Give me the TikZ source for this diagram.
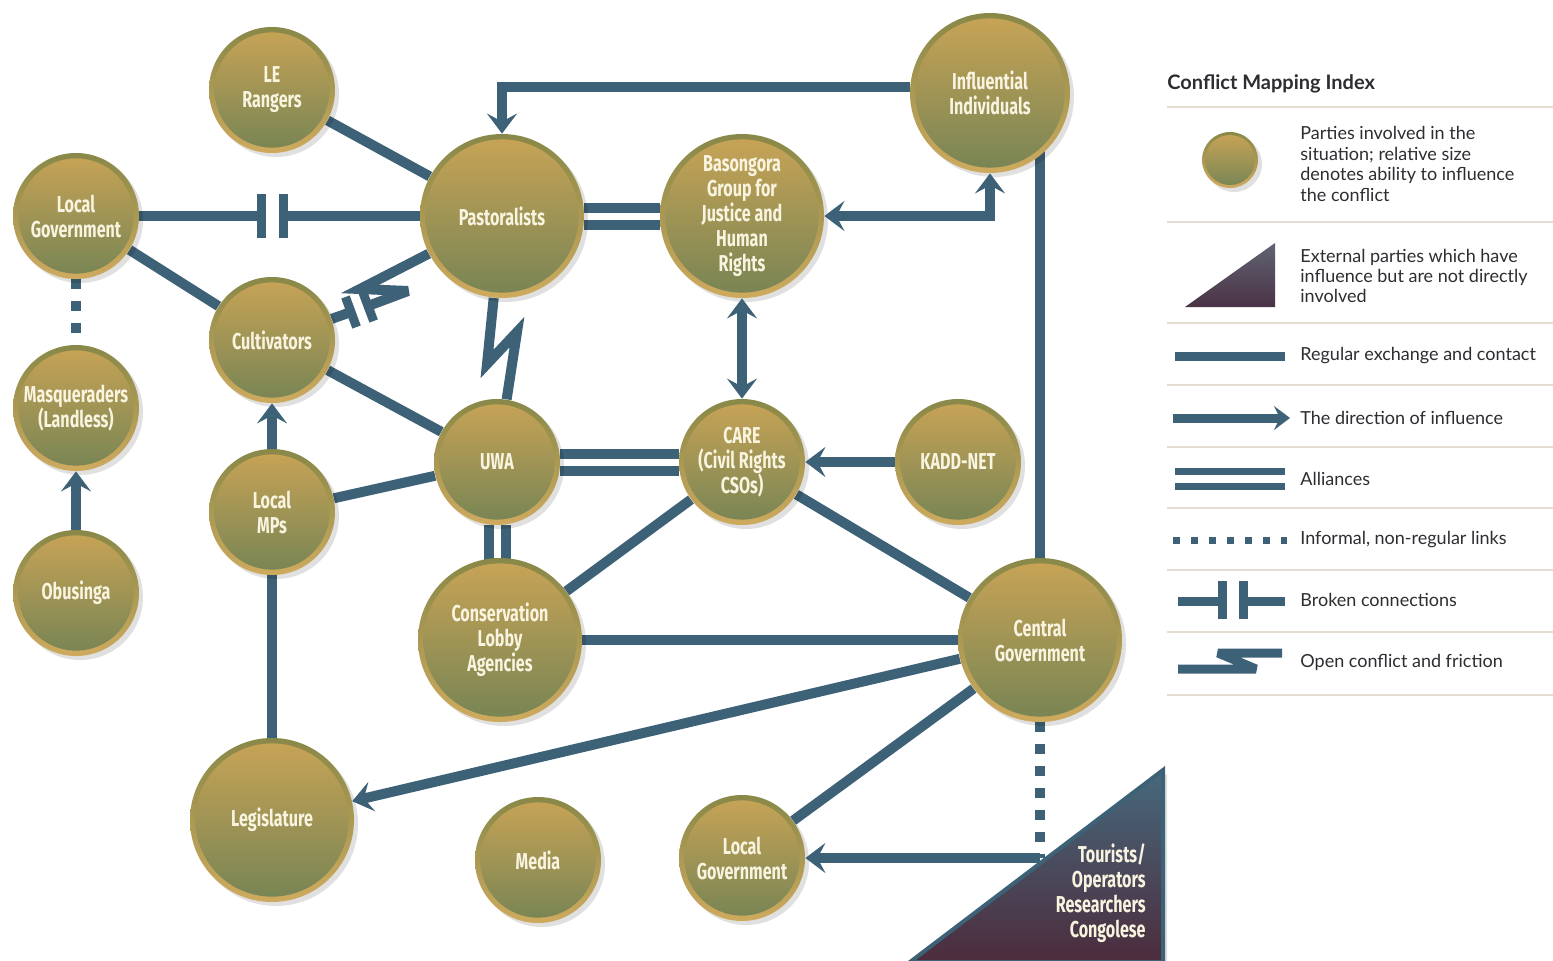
\documentclass[tikz,border=0pt]{standalone}
\usepackage{fontspec}
\setmainfont{Lato}
\newfontfamily\nodefont[FakeStretch=0.7]{Fira Sans}
\newfontfamily\legfont{Lato}
\usetikzlibrary{arrows.meta,shadows,backgrounds,calc}
\definecolor{lnk}{RGB}{61,97,118}
\definecolor{ringT}{RGB}{136,136,72}
\definecolor{ringB}{RGB}{206,170,94}
\definecolor{inT}{RGB}{201,164,86}
\definecolor{inB}{RGB}{118,132,84}
\definecolor{txt}{RGB}{248,244,224}
\definecolor{sep}{RGB}{228,222,210}
\definecolor{legtxt}{RGB}{45,45,50}
\tikzset{
  party/.style 2 args={circle, minimum size=#1, inner sep=0pt, draw=none,
    top color=ringT, bottom color=ringB,
    drop shadow={shadow xshift=2pt, shadow yshift=-2pt, opacity=0.12, fill=black},
    path picture={\shade[top color=inT, bottom color=inB] (path picture bounding box.center) circle[radius=#2];},
    font=\nodefont\bfseries\fontsize{11.5}{12.5}\selectfont, text=txt, align=center},
  big/.style={party={82pt}{38.3pt}},
  mid/.style={party={80pt}{37.3pt}},
  small/.style={party={63pt}{28.8pt}},
  tiny/.style={party={28pt}{12.5pt}},
  conn/.style={draw=lnk, line width=5pt},
  ally/.style={draw=lnk, line width=5pt, double=white, double distance=3.5pt},
  tip/.tip={Stealth[length=10pt,width=15pt,inset=4pt]},
  infl/.style={conn, -tip},
  mutual/.style={conn, tip-tip},
  dots/.style={conn, dash pattern=on 5pt off 6pt},
  fric/.style={conn, line join=miter, miter limit=5},
  bar/.style={draw=lnk, line width=4.5pt},
  legline/.style={draw=lnk, line width=4.5pt},
  legtext/.style={anchor=west, font=\legfont\fontsize{9}{10.2}\selectfont, text=legtxt, align=left, inner sep=0pt},
  septr/.style={draw=sep, line width=1pt},
}
\begin{document}
\begin{tikzpicture}[x=0.5pt,y=-0.5pt]
\useasboundingbox (0,0) rectangle (1553,960);

% parties
\node[small] (LE)   at (272,90)  {LE\\Rangers};
\node[small] (LG)   at (76,216)  {Local\\Government};
\node[big]   (P)    at (502,216) {Pastoralists};
\node[big]   (B)    at (742,216) {Basongora\\Group for\\Justice and\\Human\\Rights};
\node[mid]   (I)    at (990,93)  {Influential\\Individuals};
\node[small] (Cu)   at (272,340) {Cultivators};
\node[small] (Mq)   at (76,408)  {Masqueraders\\(Landless)};
\node[small] (UWA)  at (497,462) {UWA};
\node[small] (CARE) at (742,462) {CARE\\(Civil Rights\\CSOs)};
\node[small] (KADD) at (958,462) {KADD-NET};
\node[small] (MPs)  at (272,512) {Local\\MPs};
\node[small] (Ob)   at (76,593)  {Obusinga};
\node[big]   (Cons) at (500,640) {Conservation\\Lobby\\Agencies};
\node[big]   (CG)   at (1040,640) {Central\\Government};
\node[big]   (Leg)  at (272,820) {Legislature};
\node[small] (Med)  at (538,860) {Media};
\node[small] (LGb)  at (742,858) {Local\\Government};

% external parties triangle
\path[top color=lnk!95!white, bottom color={rgb,255:red,76;green,44;blue,60}, draw=lnk, line width=2pt, line join=miter,
      drop shadow={shadow xshift=2pt, shadow yshift=-2pt, opacity=0.12, fill=black}]
  (910,962) -- (1163,962) -- (1163,770) -- cycle;
\node[anchor=east, align=right, font=\nodefont\bfseries\fontsize{11.5}{12.5}\selectfont, text=txt, inner sep=0pt] (T) at (1146,893)
  {Tourists/\\Operators\\Researchers\\Congolese};
\coordinate (Tc) at (1040,858);

% helper coordinates
\coordinate (bk1) at (261,216);
\coordinate (bk2) at (283,216);
\coordinate (fA) at (360,289);
\coordinate (fB) at (408,291);
\coordinate (fC2) at (368,306);
\coordinate (fC1) at (351,312);
\coordinate (zA) at (487,364);
\coordinate (zB) at (517,332);

\begin{pgfonlayer}{background}
  \fill[white] (0,0) rectangle (1553,960);
  % regular contacts
  \draw[conn] (LE) -- (P);
  \draw[conn] (LG) -- (Cu);
  \draw[conn] (Cu) -- (UWA);
  \draw[conn] (MPs) -- (UWA);
  \draw[conn] (CARE) -- (Cons);
  \draw[conn] (CARE) -- (CG);
  \draw[conn] (Cons) -- (CG);
  \draw[conn] (MPs) -- (Leg);
  \draw[conn] (CG) -- (LGb);
  \draw[conn] (CG) -- (CG |- I);
  % alliances
  \draw[ally] (P) -- (B);
  \draw[ally] (UWA) -- (CARE);
  \draw[ally] (UWA) -- (UWA |- Cons);
  % informal
  \draw[dots] (LG.south) -- (Mq.north);
  \draw[dots] (CG.south) -- (Tc);
  % broken connection
  \draw[conn] (LG) -- (bk1);
  \draw[conn] (bk2) -- (P);
  \draw[bar] ([yshift=-11pt]bk1) -- ([yshift=11pt]bk1);
  \draw[bar] ([yshift=-11pt]bk2) -- ([yshift=11pt]bk2);
  % open conflict
  \draw[fric] (P) -- (zA) -- (zB) -- (UWA);
  \draw[fric] (P) -- (fA) -- (fB) -- (fC2);
  \draw[conn] (fC1) -- (Cu);
  \draw[bar] ($(fC2)!8pt!90:(fB)$) -- ($(fC2)!8pt!-90:(fB)$);
  \draw[bar] ($(fC1)!8pt!90:(fB)$) -- ($(fC1)!8pt!-90:(fB)$);
\end{pgfonlayer}

% influence
\draw[infl] (I.176) -| (P);
\draw[mutual] (B) -| (I);
\draw[mutual] (B) -- (CARE);
\draw[infl] (KADD) -- (CARE);
\draw[infl] (MPs) -- (Cu);
\draw[infl] (Ob) -- (Mq);
\draw[infl] (CG) -- (Leg);
\draw[infl] (Tc) -- (LGb);

% ---------------- legend ----------------
\node[anchor=west, font=\legfont\bfseries\fontsize{10}{12}\selectfont, text=legtxt, inner sep=0pt] (LT) at (1167,84) {Conflict Mapping Index};
\foreach \yy in {107,222,323,385,447,508,570,632,695}
  \draw[septr] (1167,\yy) -- (1553,\yy);

\node[tiny] (LC) at (1230,160) {};
\node[legtext] (L1) at (1300,164) {Parties involved in the\\situation; relative size\\denotes ability to influence\\the conflict};

\path[top color={rgb,255:red,96;green,100;blue,114}, bottom color={rgb,255:red,74;green,50;blue,70}]
  (1185,307) -- (1275,307) -- (1275,243) -- cycle;
\node[legtext] (L2) at (1300,276) {External parties which have\\influence but are not directly\\involved};

\draw[legline] (1175,356) -- (1285,356);
\node[legtext] (L3) at (1300,356) {Regular exchange and contact};

\draw[legline, -{Stealth[length=8pt,width=12pt,inset=3pt]}] (1173,418) -- (1290,418);
\node[legtext] (L4) at (1300,418) {The direction of influence};

\draw[draw=lnk, line width=3.5pt, double=white, double distance=4pt] (1175,478.5) -- (1285,478.5);
\node[legtext] (L5) at (1300,479) {Alliances};

\draw[draw=lnk, line width=3.5pt, dash pattern=on 3.5pt off 5.5pt] (1173,540) -- (1287,540);
\node[legtext] (L6) at (1300,540) {Informal, non-regular links};

\draw[legline] (1178,601) -- (1222,601);
\draw[legline] (1243,601) -- (1285,601);
\draw[legline] (1222,581) -- (1222,619);
\draw[legline] (1243,581) -- (1243,619);
\node[legtext] (L7) at (1300,600) {Broken connections};

\draw[legline, line join=miter, miter limit=4] (1178,669) -- (1256,669) -- (1218,653) -- (1282,653);
\node[legtext] (L8) at (1300,662) {Open conflict and friction};
\end{tikzpicture}
\end{document}
